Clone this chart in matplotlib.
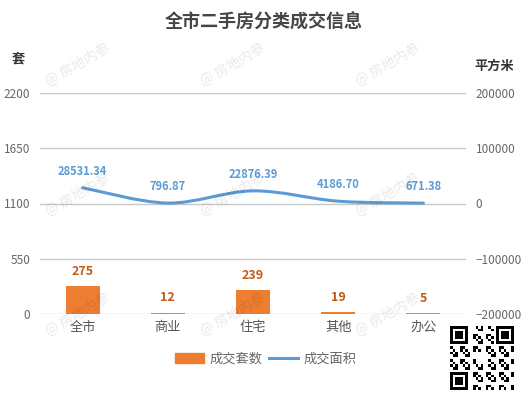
import numpy as np
import matplotlib
matplotlib.use('Agg')
import matplotlib.pyplot as plt
from matplotlib.path import Path
from matplotlib.patches import PathPatch, Patch
from matplotlib.lines import Line2D

plt.rcParams['font.family'] = ['Noto Sans CJK SC', 'DejaVu Sans']

categories = ['全市', '商业', '住宅', '其他', '办公']
counts = [275, 12, 239, 19, 5]
areas = [28531.34, 796.87, 22876.39, 4186.70, 671.38]
left_ticks = [0, 550, 1100, 1650, 2200]
right_ticks = [-200000, -100000, 0, 100000, 200000]

bar_color = '#ED7D31'
line_color = '#5B9BD5'

fig = plt.figure(figsize=(5.28, 3.94), dpi=100)
ax = fig.add_axes([40/528, 1-314/394, 426/528, 221/394])
ax2 = ax.twinx()

x = np.arange(len(categories))
ax.bar(x, counts, width=0.4, color=bar_color, zorder=3)
for xi, v in zip(x, counts):
    ax.annotate(str(v), (xi, v), xytext=(0, 6), textcoords='offset points',
                ha='center', va='bottom', color='#C55A11', fontsize=9,
                fontweight='bold')

ax.set_xlim(-0.5, len(categories) - 0.5)
ax.set_ylim(0, 2200)
ax.set_yticks(left_ticks)
ax.set_xticks(x)
ax.set_xticklabels(categories)
ax.grid(axis='y', color='#c8c8c8', linewidth=1, zorder=0)
ax.set_axisbelow(True)
ax.tick_params(axis='y', length=0, pad=7, labelsize=8.5, labelcolor='#666666')
ax.tick_params(axis='x', length=0, pad=5, labelsize=9.5, labelcolor='#555555')
for s in ax.spines.values():
    s.set_visible(False)

ax2.set_ylim(-200000, 200000)
ax2.set_yticks(right_ticks)
ax2.tick_params(axis='y', length=0, pad=7, labelsize=8.5, labelcolor='#666666')
for s in ax2.spines.values():
    s.set_visible(False)

# smooth line through the points (cubic bezier segments)
pts = np.column_stack([x, areas])
verts = [tuple(pts[0])]
codes = [Path.MOVETO]
n = len(pts)
for i in range(n - 1):
    p0 = pts[max(i - 1, 0)]
    p1 = pts[i]
    p2 = pts[i + 1]
    p3 = pts[min(i + 2, n - 1)]
    c1 = p1 + (p2 - p0) / 6
    c2 = p2 - (p3 - p1) / 6
    verts += [tuple(c1), tuple(c2), tuple(p2)]
    codes += [Path.CURVE4] * 3
ax2.add_patch(PathPatch(Path(verts, codes), fill=False, edgecolor=line_color,
                        linewidth=2.2, zorder=4, capstyle='round'))
for xi, v in zip(x, areas):
    ax2.annotate(f'{v:.2f}', (xi, v), xytext=(0, 7), textcoords='offset points',
                 ha='center', va='bottom', color=line_color, fontsize=8,
                 fontweight='bold')

fig.text(0.5, 1-22/394, '全市二手房分类成交信息', ha='center', va='center',
         fontsize=13, fontweight='bold', color='#464646')
fig.text(18/528, 1-58/394, '套', ha='center', va='center', fontsize=9.5,
         fontweight='bold', color='#333333')
fig.text(494/528, 1-66/394, '平方米', ha='center', va='center', fontsize=9.5,
         fontweight='bold', color='#333333')

handles = [Patch(color=bar_color), Line2D([0], [0], color=line_color, linewidth=2.2)]
fig.legend(handles, ['成交套数', '成交面积'], loc='center',
           bbox_to_anchor=(266/528, 1-359/394), ncol=2, frameon=False,
           fontsize=9.5, labelcolor='#666666', handlelength=2.2, handleheight=0.8,
           columnspacing=0.5, handletextpad=0.4)

# watermarks
for wy in [65, 195, 315]:
    for wx in [78, 233, 388]:
        fig.text(wx/528, 1-wy/394, '@ 房地内参', rotation=30, ha='center',
                 va='center', fontsize=10, color='#000000', alpha=0.09, zorder=10)

# QR-like code block
size = 25
qr = np.zeros((size, size))
for i in range(size):
    for j in range(size):
        qr[i, j] = 1 if ((i * 7 + j * 13 + i * j) % 5) < 2 else 0
def finder(r, c):
    qr[max(r-1, 0):r+8, max(c-1, 0):c+8] = 0
    qr[r:r+7, c:c+7] = 1
    qr[r+1:r+6, c+1:c+6] = 0
    qr[r+2:r+5, c+2:c+5] = 1
for r, c in [(0, 0), (0, size-7), (size-7, 0)]:
    finder(r, c)
qr[10:15, 10:15] = 0
qax = fig.add_axes([450/528, 1-391/394, 64/528, 66/394])
qax.imshow(1 - qr, cmap='gray', interpolation='nearest', vmin=0, vmax=1)
qax.axis('off')

fig.savefig('out.png', dpi=100)
